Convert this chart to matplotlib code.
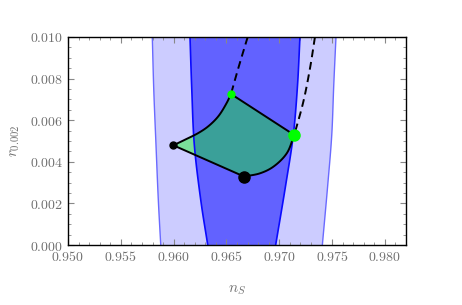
from matplotlib import pyplot as plt
from matplotlib.ticker import MultipleLocator, FuncFormatter
import numpy as np

plt.rcParams['mathtext.fontset'] = 'cm'

# contour edges (n_s at given r)
r_edge = [0.0100, 0.007452, 0.004808, 0.002163, 0.0]
ns_95_left = [0.95798, 0.95812, 0.95833, 0.95855, 0.95878]
r_edge_r = [0.0100, 0.007692, 0.005288, 0.002885, 0.0]
ns_95_right = [0.97537, 0.97516, 0.97497, 0.97459, 0.97408]

r_68l = [0.0100, 0.007452, 0.004808, 0.002082, 0.0]
ns_68_left = [0.96155, 0.96172, 0.96196, 0.96259, 0.96323]
r_68r = [0.0100, 0.007692, 0.005288, 0.002885, 0.0]
ns_68_right = [0.97196, 0.97173, 0.97133, 0.97061, 0.96966]

# model curves, green point first then down to the black point
ns_up1 = [0.96701, 0.96612, 0.96543]
r_up1 = [0.0100, 0.008495, 0.007260]
ns_low1 = [0.96543, 0.96502, 0.96423, 0.96328, 0.96234, 0.96108, 0.95997]
r_low1 = [0.007260, 0.006827, 0.006188, 0.005707, 0.005385, 0.005063, 0.004793]
ns_up2 = [0.97338, 0.97291, 0.97228, 0.97142]
r_up2 = [0.0100, 0.008495, 0.006889, 0.005288]
ns_low2 = [0.97142, 0.97071, 0.96944, 0.96818, 0.96666]
r_low2 = [0.005288, 0.004409, 0.003764, 0.003447, 0.003293]

SX, SY = 10563.0, 20800.0  # pixels per data unit, used for the spline spacing


def smooth(x, y, n=20):
    # centripetal catmull-rom through the read points
    p = np.column_stack([np.asarray(x) * SX, np.asarray(y) * SY])
    p = np.vstack([2 * p[0] - p[1], p, 2 * p[-1] - p[-2]])
    out = []
    for i in range(1, len(p) - 2):
        p0, p1, p2, p3 = p[i - 1], p[i], p[i + 1], p[i + 2]
        t0 = 0.0
        t1 = t0 + np.linalg.norm(p1 - p0) ** 0.5
        t2 = t1 + np.linalg.norm(p2 - p1) ** 0.5
        t3 = t2 + np.linalg.norm(p3 - p2) ** 0.5
        t = np.linspace(t1, t2, n, endpoint=False)[:, None]
        a1 = (t1 - t) / (t1 - t0) * p0 + (t - t0) / (t1 - t0) * p1
        a2 = (t2 - t) / (t2 - t1) * p1 + (t - t1) / (t2 - t1) * p2
        a3 = (t3 - t) / (t3 - t2) * p2 + (t - t2) / (t3 - t2) * p3
        b1 = (t2 - t) / (t2 - t0) * a1 + (t - t0) / (t2 - t0) * a2
        b2 = (t3 - t) / (t3 - t1) * a2 + (t - t1) / (t3 - t1) * a3
        out.append((t2 - t) / (t2 - t1) * b1 + (t - t1) / (t2 - t1) * b2)
    out.append(p[-2][None, :])
    out = np.vstack(out)
    return out[:, 0] / SX, out[:, 1] / SY


fig = plt.figure(figsize=(4.62, 3.05), dpi=100)
ax = fig.add_axes([0.1472, 0.1967, 0.7316, 0.682])

xl, yl = smooth(ns_95_left, r_edge)
xr, yr = smooth(ns_95_right, r_edge_r)
ax.fill(np.r_[xl, xr[::-1]], np.r_[yl, yr[::-1]], color='#ccccff', lw=0)
ax.plot(xl, yl, color='#6a6aff', lw=1)
ax.plot(xr, yr, color='#6a6aff', lw=1)

xl, yl = smooth(ns_68_left, r_68l)
xr, yr = smooth(ns_68_right, r_68r)
ax.fill(np.r_[xl, xr[::-1]], np.r_[yl, yr[::-1]], color='#6262ff', lw=0)
ax.plot(xl, yl, color='#0a0aff', lw=1.2)
ax.plot(xr, yr, color='#0a0aff', lw=1.2)

c1x, c1y = smooth(ns_low1, r_low1)
c2x, c2y = smooth(ns_low2, r_low2)
u1x, u1y = smooth(ns_up1, r_up1)
u2x, u2y = smooth(ns_up2, r_up2)

# region between the curves
ax.fill(np.r_[c1x, c2x[::-1]], np.r_[c1y, c2y[::-1]], color='#00ff00', alpha=0.4, lw=0)

ax.plot(u1x, u1y, 'k--', lw=1.4, dashes=(4, 2.5))
ax.plot(u2x, u2y, 'k--', lw=1.4, dashes=(4, 2.5))
ax.plot(c1x, c1y, 'k-', lw=1.4)
ax.plot(c2x, c2y, 'k-', lw=1.4)
ax.plot([ns_low1[0], ns_low2[0]], [r_low1[0], r_low2[0]], 'k-', lw=1.4)
ax.plot([ns_low1[-1], ns_low2[-1]], [r_low1[-1], r_low2[-1]], 'k-', lw=1.4)

ax.plot(ns_low1[0], r_low1[0], 'o', color='#00ff00', ms=5, zorder=5)
ax.plot(ns_low2[0], r_low2[0], 'o', color='#00ff00', ms=8, zorder=5)
ax.plot(ns_low1[-1], r_low1[-1], 'o', color='k', ms=5, zorder=5)
ax.plot(ns_low2[-1], r_low2[-1], 'o', color='k', ms=8, zorder=5)

ax.set_xlim(0.95, 0.982)
ax.set_ylim(0, 0.01)
ax.xaxis.set_major_locator(MultipleLocator(0.005))
ax.xaxis.set_minor_locator(MultipleLocator(0.001))
ax.yaxis.set_major_locator(MultipleLocator(0.002))
ax.yaxis.set_minor_locator(MultipleLocator(0.0005))
fmt = FuncFormatter(lambda v, p: '$%.3f$' % v)
ax.xaxis.set_major_formatter(fmt)
ax.yaxis.set_major_formatter(fmt)
ax.tick_params(which='both', direction='in', top=True, right=True, color='#888888',
               labelcolor='#707070', labelsize=10)
ax.tick_params(which='major', length=4)
ax.tick_params(which='minor', length=2)
for s in ax.spines.values():
    s.set_linewidth(1)
ax.set_xlabel('$n_S$', color='#707070', fontsize=11, labelpad=13)
ax.set_ylabel('$r_{0.002}$', color='#707070', fontsize=11, labelpad=6)

fig.savefig('out.png', dpi=100)
